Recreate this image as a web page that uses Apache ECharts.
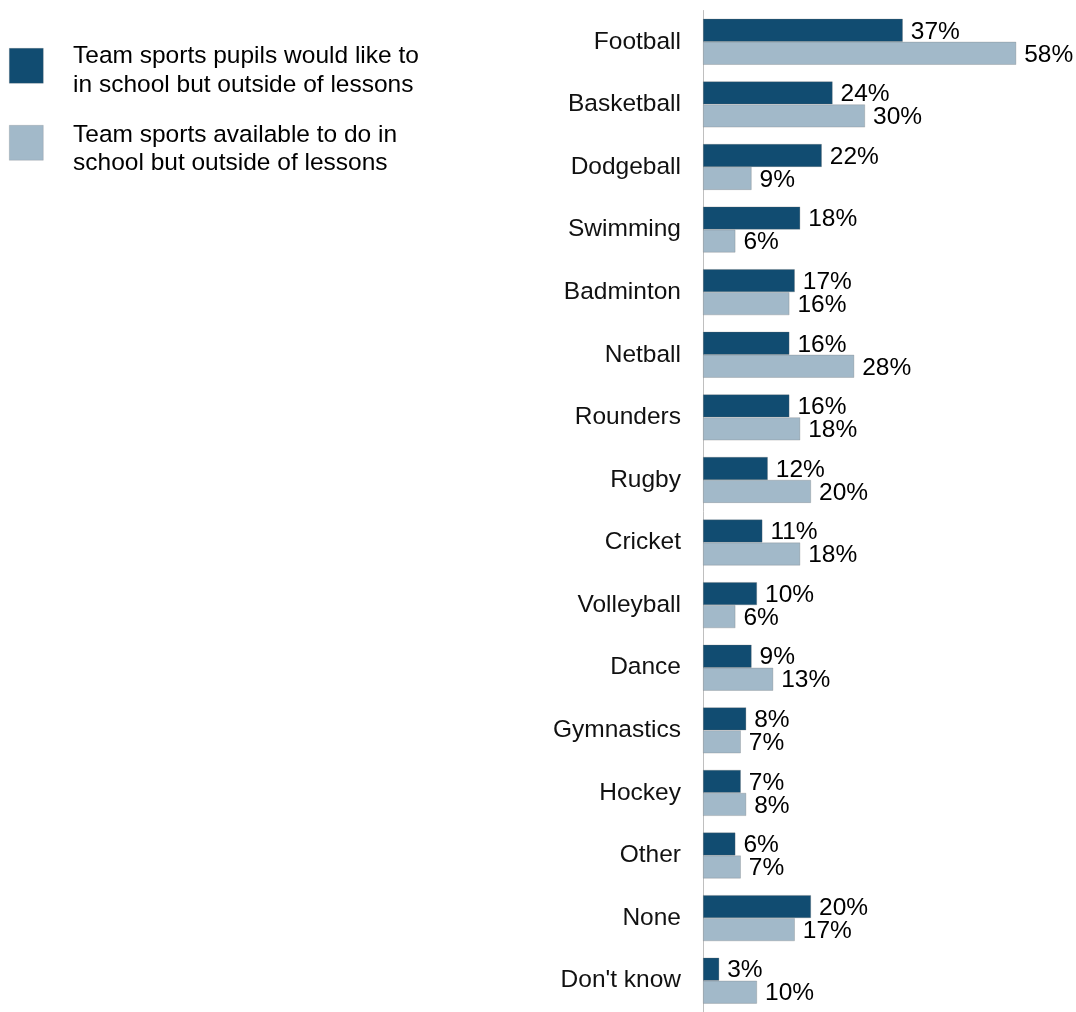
<!DOCTYPE html>
<html>
<head>
<meta charset="utf-8">
<style>
  html, body { margin: 0; padding: 0; background: #fff; }
  #chart { width: 1076px; height: 1012px; }
</style>
<script src="https://cdn.jsdelivr.net/npm/echarts@6/dist/echarts.min.js"></script>
</head>
<body>
<div id="chart"></div>
<script>
// Sports categories, top to bottom
const categories = ['Football', 'Basketball', 'Dodgeball', 'Swimming', 'Badminton', 'Netball',
  'Rounders', 'Rugby', 'Cricket', 'Volleyball', 'Dance', 'Gymnastics', 'Hockey', 'Other',
  'None', "Don't know"];

const seriesNames = [
  'Team sports pupils would like to\nin school but outside of lessons',
  'Team sports available to do in\nschool but outside of lessons'
];

// Percentages of pupils
const wouldLike = [37, 24, 22, 18, 17, 16, 16, 12, 11, 10, 9, 8, 7, 6, 20, 3];
const available = [58, 30, 9, 6, 16, 28, 18, 20, 18, 6, 13, 7, 8, 7, 17, 10];

const colors = ['#114c71', '#a2b9c9'];
const FONT = 'Liberation Sans, Arial, sans-serif';
const FS = 24.5;

const chart = echarts.init(document.getElementById('chart'), null, { renderer: 'canvas' });

function barSeries(name, data, color) {
  return {
    type: 'bar',
    name: name,
    data: data,
    barWidth: 23,
    barGap: '0%',
    itemStyle: { color: color, borderColor: 'rgba(110,110,110,0.45)', borderWidth: 0.6 },
    label: {
      show: true,
      position: 'right',
      distance: 8,
      offset: [0, 1.5],
      formatter: '{c}%',
      fontFamily: FONT,
      fontSize: FS,
      color: '#000'
    },
    silent: true,
    animation: false
  };
}

// Legend drawn as two swatch + text pairs
const legendTop = [48, 125];
const legendTextTop = [41.5, 121.5];
const legendLineHeight = [29, 28];
const graphic = [];
seriesNames.forEach((n, i) => {
  graphic.push({
    type: 'rect',
    left: 9, top: legendTop[i],
    shape: { width: 34, height: 35 },
    style: { fill: colors[i], stroke: 'rgba(110,110,110,0.35)', lineWidth: 0.6 }
  });
  graphic.push({
    type: 'text',
    x: 73, y: legendTextTop[i],
    style: {
      text: n,
      font: FS + 'px ' + FONT,
      lineHeight: legendLineHeight[i],
      fill: '#000',
      verticalAlign: 'top'
    }
  });
});

chart.setOption({
  animation: false,
  grid: { left: 703, width: 324, top: 10.5, height: 1007, containLabel: false },
  xAxis: {
    type: 'value',
    min: 0,
    max: 60,
    show: false,
    splitLine: { show: false }
  },
  yAxis: {
    type: 'category',
    data: categories,
    inverse: true,
    axisTick: { show: false },
    axisLine: { show: true, lineStyle: { color: '#bfbfbf', width: 1 } },
    axisLabel: { margin: 22, fontFamily: FONT, fontSize: FS, color: '#111', padding: [2, 0, 0, 0] }
  },
  graphic: graphic,
  series: [
    barSeries(seriesNames[0], wouldLike, colors[0]),
    barSeries(seriesNames[1], available, colors[1])
  ]
});
</script>
</body>
</html>
